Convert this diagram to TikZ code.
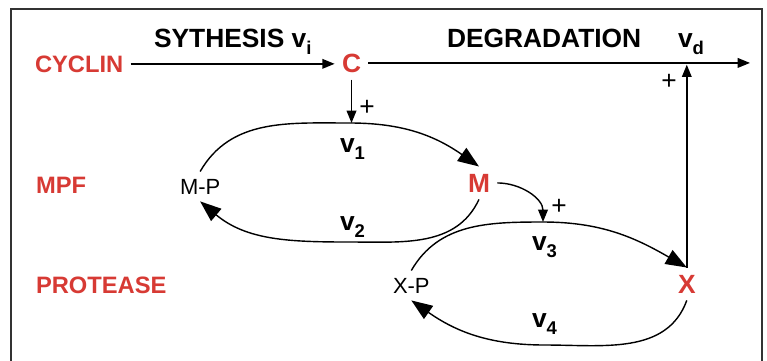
\documentclass[tikz,border=0pt]{standalone}
\usepackage{fontspec}
\setmainfont{Liberation Sans}
\usepackage{tikz}
\usetikzlibrary{arrows.meta,positioning}
\definecolor{specred}{RGB}{215,58,52}
\newcommand{\lowsub}[1]{\raisebox{-4pt}{\fontsize{10.5}{12}\selectfont #1}}
\tikzset{
  rowlab/.style={anchor=text, inner sep=4pt, text=specred, font=\fontsize{13.5}{16}\selectfont\bfseries},
  species/.style={anchor=text, inner sep=4pt, text=specred, font=\fontsize{15}{18}\selectfont\bfseries},
  phos/.style={anchor=text, inner sep=4pt, font=\fontsize{12.5}{15}\selectfont},
  rate/.style={anchor=text, inner sep=0pt, font=\fontsize{15}{18}\selectfont\bfseries},
  plusmark/.style={inner sep=0pt, font=\fontsize{15}{18}\selectfont},
  flow/.style={line width=0.8pt, -{Triangle[length=7pt,width=5.5pt]}},
  cycle/.style={line width=0.8pt, -{Triangle[length=12pt,width=9pt]}}
}
\begin{document}
\begin{tikzpicture}[x=0.02cm,y=0.02cm]
  \useasboundingbox (0,0) rectangle (767,-360);
  \draw[line width=1.2pt, black!80] (11,-9) rectangle (762,-380);
  \node[rowlab] (cyclin) at (35,-72) {CYCLIN};
  \node[rowlab] (mpf) at (36,-193) {MPF};
  \node[rowlab] (protease) at (36,-293) {PROTEASE};
  \node[species] (c) at (342,-72) {C};
  \node[species] (m) at (468,-192) {M};
  \node[species] (x) at (678,-293) {X};
  \node[phos] (mp) at (180,-194) {M-P};
  \node[phos] (xp) at (393,-293) {X-P};
  \node[rate] (synth) at (154,-47) {SYTHESIS v\lowsub{i}};
  \node[rate] (degr) at (447,-47) {DEGRADATION};
  \node[rate] (vd) at (678,-47) {v\lowsub{d}};
  \node[rate] (v1) at (340,-152) {v\lowsub{1}};
  \node[rate] (v2) at (340,-230) {v\lowsub{2}};
  \node[rate] (v3) at (532,-250) {v\lowsub{3}};
  \node[rate] (v4) at (532,-327) {v\lowsub{4}};
  \coordinate (top1) at (350,-123);
  \coordinate (bot1) at (350,-242);
  \coordinate (top3) at (543,-222);
  \coordinate (bot3) at (545,-345);
  \coordinate (dend) at (750,-62);
  \draw[flow] (cyclin.east) -- (cyclin.east -| c.west);
  \draw[flow] (c.east) -- (c.east -| dend);
  \draw[flow, shorten >=1pt] (x.north) -- (x.north |- c.east);
  \draw[flow] (c.south) -- (c.south |- top1);
  \draw[cycle] (mp.north) to[out=60,in=180] (top1) to[out=0,in=145] (m.north);
  \draw[cycle] (m.south) to[out=-115,in=0] (bot1) to[out=180,in=-40] (mp.south);
  \draw[cycle] (xp.north) to[out=60,in=180] (top3) to[out=0,in=150] (x.north);
  \draw[cycle] (x.south) to[out=-110,in=0] (bot3) to[out=180,in=-35] (xp.south);
  \draw[flow] (m.east) to[out=0,in=90] (top3);
  \node[plusmark] (p1) at (367,-108) {+};
  \node[plusmark] (p2) at (669,-82) {+};
  \node[plusmark] (p3) at (559,-207) {+};
\end{tikzpicture}
\end{document}
